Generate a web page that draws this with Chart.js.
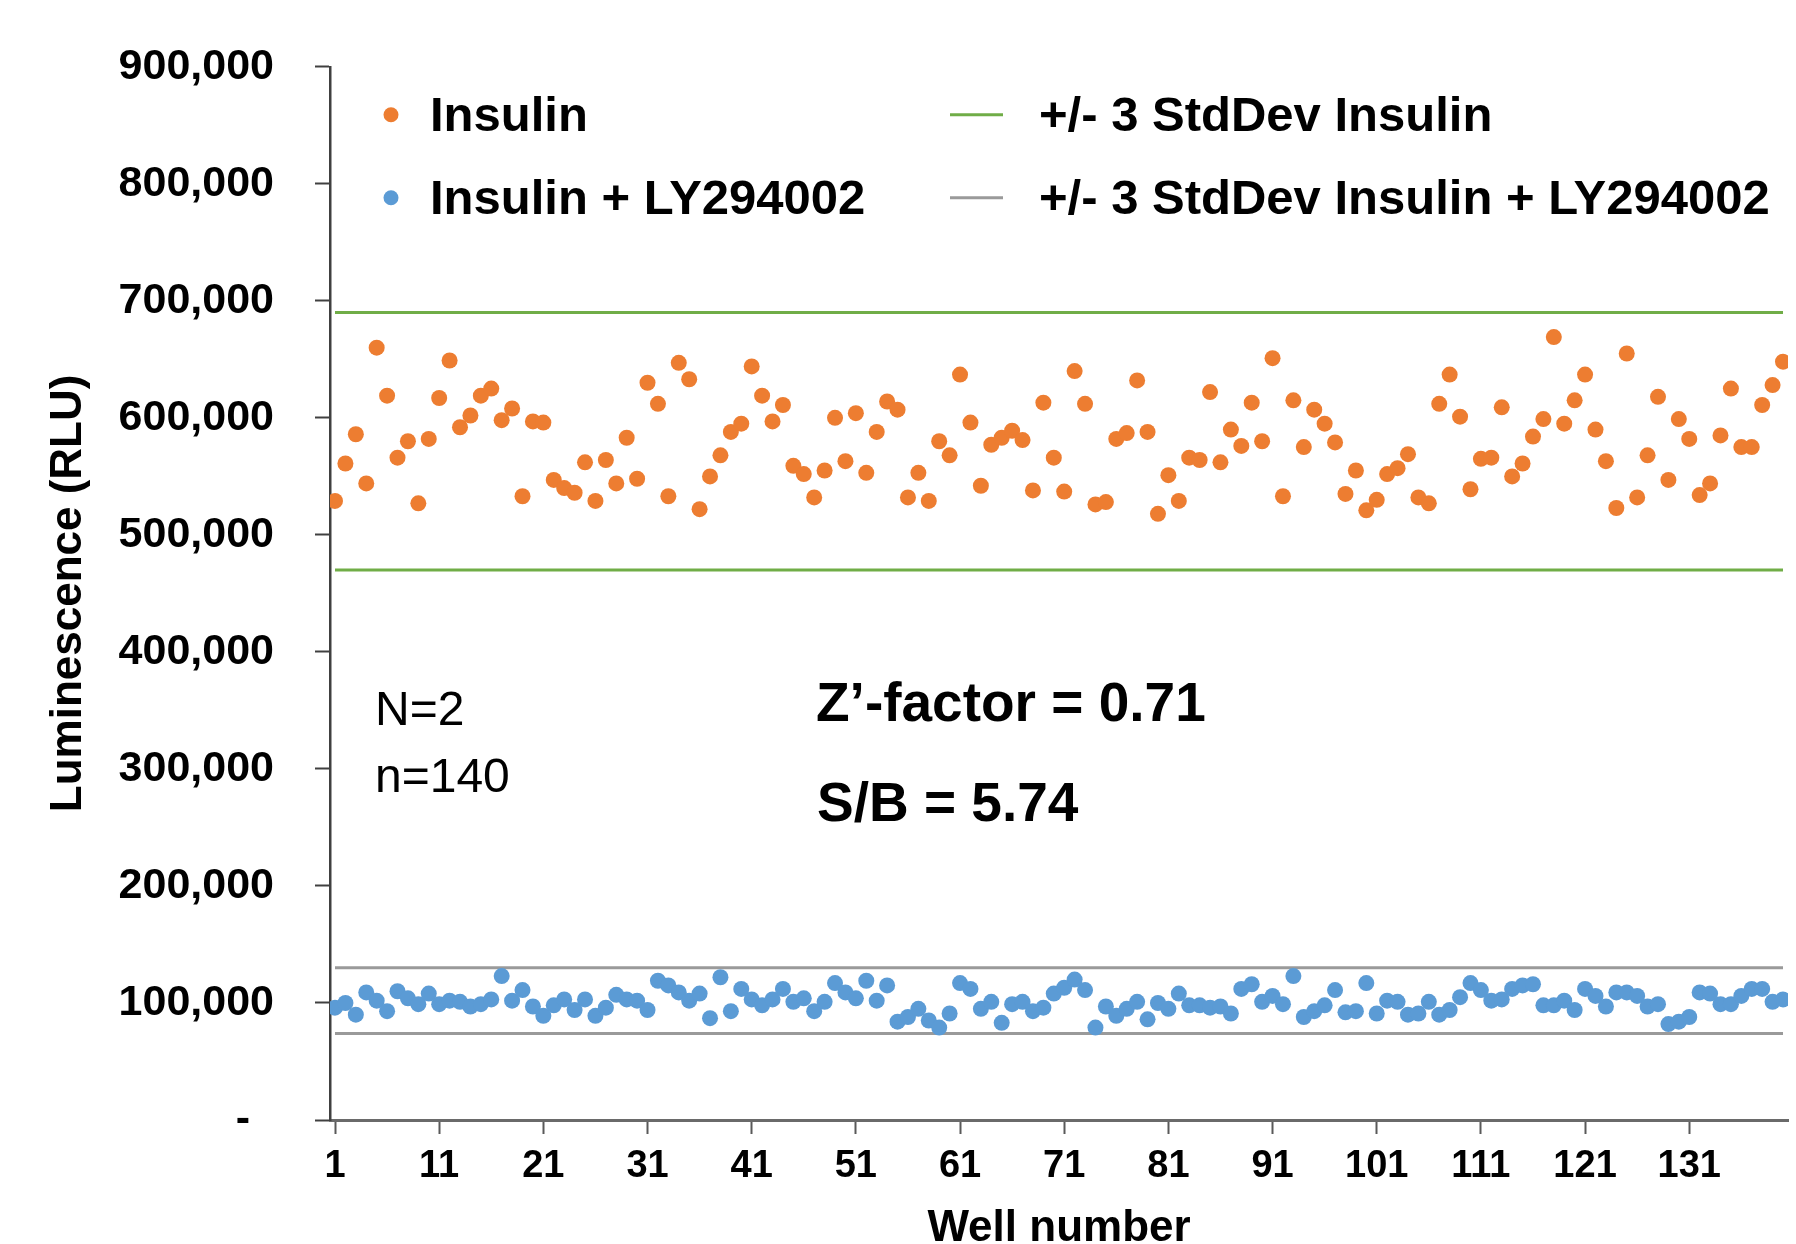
<!DOCTYPE html>
<html>
<head>
<meta charset="utf-8">
<script src="https://cdn.jsdelivr.net/npm/chart.js@4.4.1/dist/chart.umd.min.js"></script>
<style>
  html, body { margin: 0; padding: 0; background: #fff; overflow: hidden; }
  canvas { display: block; }
</style>
</head>
<body>
<canvas id="c" width="1796" height="1300"></canvas>
<script>
// ---------- DATA ----------
const wells = Array.from({ length: 140 }, (_, i) => i + 1);

const insulin = [
  529000, 561000, 586000, 544000, 660000, 619000, 566000, 580000, 527000, 582000,
  617000, 649000, 592000, 602000, 619000, 625000, 598000, 608000, 533000, 597000,
  596000, 547000, 540000, 536000, 562000, 529000, 564000, 544000, 583000, 548000,
  630000, 612000, 533000, 647000, 633000, 522000, 550000, 568000, 588000, 595000,
  644000, 619000, 597000, 611000, 559000, 552000, 532000, 555000, 600000, 563000,
  604000, 553000, 588000, 614000, 607000, 532000, 553000, 529000, 580000, 568000,
  637000, 596000, 542000, 577000, 583000, 589000, 581000, 538000, 613000, 566000,
  537000, 640000, 612000, 526000, 528000, 582000, 587000, 632000, 588000, 518000,
  551000, 529000, 566000, 564000, 622000, 562000, 590000, 576000, 613000, 580000,
  651000, 533000, 615000, 575000, 607000, 595000, 579000, 535000, 555000, 521000,
  530000, 552000, 557000, 569000, 532000, 527000, 612000, 637000, 601000, 539000,
  565000, 566000, 609000, 550000, 561000, 584000, 599000, 669000, 595000, 615000,
  637000, 590000, 563000, 523000, 655000, 532000, 568000, 618000, 547000, 599000,
  582000, 534000, 544000, 585000, 625000, 575000, 575000, 611000, 628000, 648000
];

const insulinLY = [
  96000, 100000, 90000, 109000, 102000, 93000, 110000, 104000, 99000, 108000,
  99000, 102000, 101000, 97000, 99000, 103000, 123000, 102000, 111000, 97000,
  89000, 98000, 103000, 94000, 103000, 89000, 96000, 107000, 103000, 102000,
  94000, 119000, 115000, 109000, 102000, 108000, 87000, 122000, 93000, 112000,
  103000, 98000, 103000, 112000, 101000, 104000, 93000, 101000, 117000, 109000,
  104000, 119000, 102000, 115000, 84000, 88000, 95000, 85000, 79000, 91000,
  117000, 112000, 95000, 101000, 83000, 99000, 101000, 93000, 96000, 108000,
  113000, 120000, 111000, 79000, 97000, 89000, 95000, 101000, 86000, 100000,
  95000, 108000, 98000, 98000, 96000, 97000, 91000, 112000, 116000, 101000,
  106000, 99000, 123000, 88000, 93000, 98000, 111000, 92000, 93000, 117000,
  91000, 102000, 101000, 90000, 91000, 101000, 90000, 94000, 105000, 117000,
  111000, 102000, 103000, 112000, 115000, 116000, 98000, 98000, 102000, 94000,
  112000, 106000, 97000, 109000, 109000, 106000, 97000, 99000, 82000, 84000,
  88000, 109000, 108000, 99000, 99000, 106000, 112000, 112000, 101000, 103000
];

const insulinBand = [470000, 690000];     // mean +/- 3 SD, Insulin
const insulinLYBand = [74000, 130000];    // mean +/- 3 SD, Insulin + LY294002

const yTickValues = [0, 100000, 200000, 300000, 400000, 500000, 600000, 700000, 800000, 900000];
const yTickLabels = ['-  ', '100,000', '200,000', '300,000', '400,000', '500,000', '600,000', '700,000', '800,000', '900,000'];
const xTickValues = [1, 11, 21, 31, 41, 51, 61, 71, 81, 91, 101, 111, 121, 131];
const xTickLabels = ['1', '11', '21', '31', '41', '51', '61', '71', '81', '91', '101', '111', '121', '131'];

const seriesLabels = ['Insulin', 'Insulin + LY294002', '+/- 3 StdDev Insulin', '+/- 3 StdDev Insulin + LY294002'];
const annotationTexts = ['N=2', 'n=140', 'Z\u2019-factor = 0.71', 'S/B = 5.74'];

// ---------- STYLE ----------
const FONT = '"Liberation Sans", Arial, Helvetica, sans-serif';
const ORANGE = '#ED7D31', BLUE = '#5B9BD5', GREEN = '#70AD47', GRAY = '#9a9a9a';

const toPoints = (vals) => wells.map((w, i) => ({ x: w, y: vals[i] }));
const bandLine = (v) => [{ x: wells[0], y: v }, { x: wells[wells.length - 1], y: v }];

const datasets = [
  { label: seriesLabels[0], data: toPoints(insulin), backgroundColor: ORANGE, borderColor: ORANGE,
    pointRadius: 8, pointHoverRadius: 8, borderWidth: 0, showLine: false, legendPos: [0, 0], kind: 'point' },
  { label: seriesLabels[1], data: toPoints(insulinLY), backgroundColor: BLUE, borderColor: BLUE,
    pointRadius: 8, pointHoverRadius: 8, borderWidth: 0, showLine: false, legendPos: [0, 1], kind: 'point' },
  { label: seriesLabels[2], data: bandLine(insulinBand[1]), borderColor: GREEN, borderWidth: 3,
    pointRadius: 0, showLine: true, legendPos: [1, 0], kind: 'line' },
  { label: seriesLabels[2], data: bandLine(insulinBand[0]), borderColor: GREEN, borderWidth: 3,
    pointRadius: 0, showLine: true },
  { label: seriesLabels[3], data: bandLine(insulinLYBand[1]), borderColor: GRAY, borderWidth: 3,
    pointRadius: 0, showLine: true, legendPos: [1, 1], kind: 'line' },
  { label: seriesLabels[3], data: bandLine(insulinLYBand[0]), borderColor: GRAY, borderWidth: 3,
    pointRadius: 0, showLine: true }
];

// Custom in-plot legend (2 x 2 grid) and text annotations
const overlayPlugin = {
  id: 'overlay',
  afterDraw(chart) {
    const { ctx, chartArea: a } = chart;
    ctx.save();
    ctx.textBaseline = 'middle';
    ctx.textAlign = 'left';
    ctx.fillStyle = '#000';
    const rowY = [a.top + 48, a.top + 131];
    chart.data.datasets.forEach(ds => {
      if (!ds.legendPos) return;
      const [col, row] = ds.legendPos;
      const y = rowY[row];
      if (ds.kind === 'point') {
        ctx.beginPath();
        ctx.fillStyle = ds.backgroundColor;
        ctx.arc(a.left + 61, y, 7.5, 0, Math.PI * 2);
        ctx.fill();
      } else {
        ctx.beginPath();
        ctx.strokeStyle = ds.borderColor;
        ctx.lineWidth = 3;
        ctx.moveTo(a.left + 620, y);
        ctx.lineTo(a.left + 673, y);
        ctx.stroke();
      }
      ctx.fillStyle = '#000';
      ctx.font = 'bold 49px ' + FONT;
      ctx.fillText(ds.label, a.left + (col === 0 ? 100 : 709), y + 3);
    });
    // annotations
    ctx.font = '48px ' + FONT;
    ctx.fillText(annotationTexts[0], a.left + 45, 712);
    ctx.fillText(annotationTexts[1], a.left + 45, 779);
    ctx.font = 'bold 55px ' + FONT;
    ctx.fillText(annotationTexts[2], a.left + 486, 706);
    ctx.fillText(annotationTexts[3], a.left + 487, 806);
    ctx.restore();
  }
};

new Chart(document.getElementById('c'), {
  type: 'scatter',
  data: { datasets },
  plugins: [overlayPlugin],
  options: {
    responsive: false,
    animation: false,
    devicePixelRatio: 1,
    layout: { padding: { left: 42, right: 2, top: 64, bottom: 0 } },
    plugins: { legend: { display: false }, tooltip: { enabled: false } },
    scales: {
      x: {
        type: 'linear',
        min: 0.52,
        max: 140.48,
        afterBuildTicks: (s) => { s.ticks = xTickValues.map(v => ({ value: v })); },
        afterFit: (s) => { s.height = 180; },
        ticks: {
          autoSkip: false, maxRotation: 0, minRotation: 0, padding: 10, color: '#000',
          font: { family: FONT, size: 38, weight: 'bold' },
          callback: (v, i) => xTickLabels[i]
        },
        grid: { drawOnChartArea: false, drawTicks: true, tickLength: 14, tickColor: '#595959', tickWidth: 2 },
        border: { display: true, color: '#6a6a6a', width: 3 },
        title: {
          display: true, text: 'Well number', color: '#000',
          font: { family: FONT, size: 44, weight: 'bold' },
          padding: { top: 0, bottom: 45 }
        }
      },
      y: {
        min: 0,
        max: 900000,
        afterBuildTicks: (s) => { s.ticks = yTickValues.map(v => ({ value: v })); },
        afterFit: (s) => { s.width = 288; },
        ticks: {
          padding: 41, color: '#000',
          font: { family: FONT, size: 43, weight: 'bold' },
          callback: (v, i) => yTickLabels[i]
        },
        grid: { drawOnChartArea: false, drawTicks: true, tickLength: 15, tickColor: '#404040', tickWidth: 2 },
        border: { display: true, color: '#404040', width: 2.5 },
        title: {
          display: true, text: 'Luminescence (RLU)', color: '#000',
          font: { family: FONT, size: 44, weight: 'bold' },
          padding: { top: 0, bottom: 0 }
        }
      }
    }
  }
});
</script>
</body>
</html>
